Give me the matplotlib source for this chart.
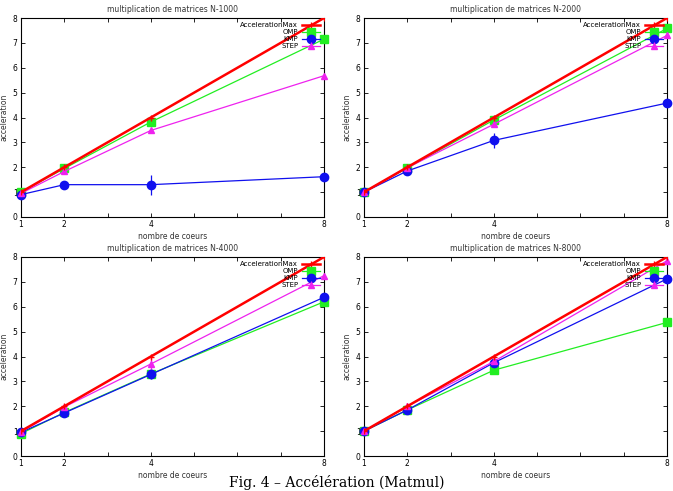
import matplotlib
matplotlib.use("Agg")
import matplotlib.pyplot as plt

# number of cores
cores = [1, 2, 4, 8]
sizes = ["N-1000", "N-2000", "N-4000", "N-8000"]

# acceleration per matrix size
acc_max = [1, 2, 4, 8]
omp = [
    [1.0, 1.95, 3.82, 7.15],
    [1.0, 1.97, 3.90, 7.58],
    [0.90, 1.75, 3.30, 6.20],
    [1.0, 1.85, 3.45, 5.37],
]
kmp = [
    [0.90, 1.30, 1.30, 1.62],
    [1.0, 1.85, 3.08, 4.58],
    [0.95, 1.73, 3.28, 6.38],
    [1.0, 1.85, 3.75, 7.12],
]
kmp_err = [
    [0.03, 0.05, 0.40, 0.0],
    [0.03, 0.05, 0.30, 0.0],
    [0.03, 0.05, 0.20, 0.0],
    [0.02, 0.05, 0.10, 0.0],
]
step = [
    [0.95, 1.83, 3.48, 5.68],
    [1.0, 1.98, 3.73, 7.30],
    [0.97, 1.97, 3.70, 7.25],
    [1.0, 2.0, 3.80, 7.85],
]
step_err = [
    [0.02, 0.03, 0.05, 0.0],
    [0.02, 0.03, 0.05, 0.0],
    [0.02, 0.03, 0.25, 0.0],
    [0.02, 0.03, 0.05, 0.0],
]

plt.rcParams["font.family"] = "DejaVu Sans"
fig = plt.figure(figsize=(6.73, 4.91), dpi=100)

W, H = 673.0, 491.0
boxes = [(21, 18), (364, 18), (21, 257), (364, 257)]
aw, ah = 303, 199

for i, (x0, y0) in enumerate(boxes):
    ax = fig.add_axes([x0 / W, 1 - (y0 + ah) / H, aw / W, ah / H])
    ax.plot(cores, acc_max, color="red", lw=1.8, marker="+", ms=4,
            label="AccelerationMax", zorder=5)
    ax.plot(cores, omp[i], color="#22ee22", lw=0.9, marker="s", ms=6,
            label="OMP", zorder=3, clip_on=False)
    ax.errorbar(cores, kmp[i], yerr=kmp_err[i], color="#1010ee", lw=0.9,
                marker="o", ms=6, elinewidth=0.9, capsize=0, label="KMP",
                zorder=4, clip_on=False)
    ax.errorbar(cores, step[i], yerr=step_err[i], color="#ee22ee", lw=0.9,
                marker="^", ms=4, elinewidth=0.9, capsize=0, label="STEP",
                zorder=4, clip_on=False)
    ax.set_xlim(1, 8)
    ax.set_ylim(0, 8)
    ax.set_xticks(range(1, 9))
    ax.set_xticklabels(["1", "2", "", "4", "", "", "", "8"])
    ax.set_yticks(range(0, 9))
    ax.tick_params(direction="in", top=True, right=True, labelsize=5.5,
                   length=3, width=0.6, pad=2.5)
    for s in ax.spines.values():
        s.set_linewidth(0.8)
    ax.set_title(f"multiplication de matrices {sizes[i]}", fontsize=5.5,
                 color="#333333", pad=4)
    ax.set_xlabel("nombre de coeurs", fontsize=5.5, color="#333333",
                  labelpad=2)
    ax.set_ylabel("acceleration", fontsize=5.5, color="#333333", labelpad=3)
    ax.legend(loc="upper right", frameon=False, markerfirst=False,
              fontsize=5, handlelength=2.6, labelspacing=0.15,
              borderaxespad=0.2, handletextpad=0.5)

fig.text(0.5, 1 - 482 / H, "Fig. 4 – Accélération (Matmul)", ha="center",
         va="center", fontsize=10, family="DejaVu Serif")

fig.savefig("out.png", dpi=100)
